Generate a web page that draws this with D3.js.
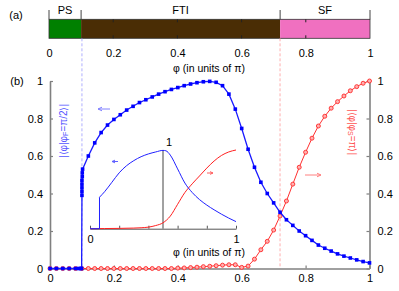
<!DOCTYPE html>
<html><head><meta charset="utf-8">
<script src="https://cdn.jsdelivr.net/npm/d3@7"></script>
<style>
body{margin:0;background:#fff;}
text{font-family:"Liberation Sans",Arial,sans-serif;}
</style></head>
<body><svg id="c" width="399" height="291"></svg>
<script>
// ---- data ----
const phaseNames = ["PS","FTI","SF"];
const phaseBounds = [0, 0.1, 0.72, 1];
const phaseColors = ["#008000","#4a2d05","#f070c0"];
const xTicks = [0,0.2,0.4,0.6,0.8,1];
const yTicks = [0,0.2,0.4,0.6,0.8,1];

const phiBlue = [0,0.02,0.04,0.06,0.08,0.09,0.096,0.099,
 0.1,0.1,0.1,0.1,0.1,0.101,0.101,0.102,
 0.12,0.14,0.16,0.18,0.20,0.22,0.24,0.26,0.28,0.30,0.32,0.34,0.36,0.38,0.40,0.42,0.44,0.46,0.48,0.50,
 0.52,0.54,0.56,0.58,0.60,0.62,0.64,0.66,0.68,0.70,0.72,0.74,0.76,0.78,0.80,0.82,0.84,0.86,0.88,0.90,0.92,0.94,0.96,0.98,1.0];
const valBlue = [0,0,0,0,0,0,0,0,
 0.39,0.41,0.43,0.45,0.47,0.49,0.51,0.53,
 0.60,0.67,0.725,0.765,0.795,0.82,0.845,0.865,0.885,0.90,0.915,0.93,0.943,0.955,0.965,0.975,0.984,0.991,0.996,0.998,
 0.993,0.975,0.93,0.85,0.747,0.636,0.54,0.46,0.40,0.35,0.30,0.26,0.23,0.20,0.175,0.15,0.125,0.108,0.093,0.078,0.066,0.056,0.046,0.037,0.03];

const phiRed = [0,0.02,0.04,0.06,0.08,0.10,0.12,0.14,0.16,0.18,0.20,0.22,0.24,0.26,0.28,0.30,0.32,0.34,0.36,0.38,
 0.40,0.42,0.44,0.46,0.48,0.50,0.52,0.54,0.56,0.58,0.60,0.62,0.64,0.66,0.68,0.70,0.72,0.74,0.76,0.78,0.80,
 0.82,0.84,0.86,0.88,0.90,0.92,0.94,0.96,0.98,1.0];
const valRed = [0,0,0,0,0,0,0,0,0,0,0,0,0,0,0,0,0,0,0,0,
 0.002,0.003,0.005,0.007,0.01,0.012,0.015,0.018,0.02,0.02,0.006,0.013,0.05,0.10,0.145,0.205,0.28,0.36,0.45,0.54,0.62,
 0.695,0.76,0.812,0.855,0.89,0.92,0.948,0.97,0.988,1.0];

// inset (continuous curves)
const insetJumpPhi = [0, 0.065, 0.065];
const insetJumpVal = [0, 0, 0.40];
const insetBluePhi = [0.065,0.1,0.15,0.2,0.25,0.3,0.35,0.4,0.45,0.5,0.52,0.55,0.6,0.65,0.7,0.75,0.8,0.85,0.9,0.95,1.0];
const insetBlueVal = [0.40,0.47,0.59,0.71,0.80,0.865,0.915,0.95,0.975,0.995,0.99,0.935,0.76,0.58,0.46,0.37,0.30,0.24,0.185,0.135,0.09];
const insetRedPhi = [0,0.1,0.2,0.3,0.35,0.4,0.45,0.5,0.55,0.6,0.65,0.7,0.75,0.8,0.85,0.9,0.95,1.0];
const insetRedVal = [0,0.002,0.004,0.008,0.012,0.02,0.04,0.075,0.16,0.31,0.46,0.57,0.67,0.77,0.86,0.93,0.975,1.0];
const insetTicks = [0,0.2,0.4,0.6,0.8,1];
const insetMarker = 0.5;

// ---- drawing ----
const svg = d3.select("#c");
svg.append("rect").attr("width",399).attr("height",291).attr("fill","#fff");
const gray = "#808080";

// (a) phase bar
const xa = d3.scaleLinear([0,1],[49,370]);
const barTop = 19.3, barBot = 38.3;
svg.append("text").attr("x",16).attr("y",15).attr("text-anchor","middle").attr("dominant-baseline","central")
  .attr("font-size",11).text("(a)");
phaseNames.forEach((n,i)=>{
  svg.append("rect").attr("x",xa(phaseBounds[i])).attr("y",barTop)
    .attr("width",xa(phaseBounds[i+1])-xa(phaseBounds[i])).attr("height",barBot-barTop)
    .attr("fill",phaseColors[i]);
  svg.append("text").attr("x",(xa(phaseBounds[i])+xa(phaseBounds[i+1]))/2).attr("y",10)
    .attr("text-anchor","middle").attr("dominant-baseline","central").attr("font-size",11).text(n);
});
phaseBounds.forEach(b=>{
  svg.append("line").attr("x1",xa(b)).attr("x2",xa(b)).attr("y1",10).attr("y2",barTop)
    .attr("stroke","#444").attr("stroke-width",1);
});
svg.append("rect").attr("x",xa(0)).attr("y",barTop).attr("width",xa(1)-xa(0)).attr("height",barBot-barTop)
  .attr("fill","none").attr("stroke","#333").attr("stroke-width",0.8);
const axA = d3.axisBottom(xa).tickValues(xTicks).tickSizeInner(0).tickSizeOuter(0).tickPadding(11)
  .tickFormat(d=>d===0||d===1?String(d):d3.format(".1f")(d));
const gA = svg.append("g").attr("transform",`translate(0,${barBot})`).call(axA);
gA.select(".domain").remove();
gA.selectAll("text").attr("font-size",11).attr("fill","#000").attr("font-family","Liberation Sans, Arial, sans-serif");
xTicks.slice(1,-1).forEach(t=>{
  svg.append("line").attr("x1",xa(t)).attr("x2",xa(t)).attr("y1",barTop).attr("y2",barTop+3).attr("stroke","#222").attr("stroke-width",1);
  svg.append("line").attr("x1",xa(t)).attr("x2",xa(t)).attr("y1",barBot-3).attr("y2",barBot).attr("stroke","#222").attr("stroke-width",1);
});
svg.append("text").attr("x",209).attr("y",68).attr("text-anchor","middle").attr("dominant-baseline","central")
  .attr("font-size",10.5).text("φ (in units of π)");

// (b) main
const xb = d3.scaleLinear([0,1],[50,369.5]);
const yb = d3.scaleLinear([0,1],[268.5,81]);
svg.append("text").attr("x",17).attr("y",81).attr("text-anchor","middle").attr("dominant-baseline","central")
  .attr("font-size",11).text("(b)");

// dashed phase boundaries
svg.append("line").attr("x1",xb(0.1)).attr("x2",xb(0.1)).attr("y1",barBot).attr("y2",yb(0))
  .attr("stroke","#9a9aff").attr("stroke-dasharray","3,2").attr("stroke-width",0.8);
svg.append("line").attr("x1",xb(0.72)).attr("x2",xb(0.72)).attr("y1",barBot).attr("y2",yb(0))
  .attr("stroke","#ff9a9a").attr("stroke-dasharray","3,2").attr("stroke-width",0.8);

function styleAxis(g){
  g.select(".domain").attr("stroke",gray).attr("stroke-width",1.6);
  g.selectAll(".tick line").attr("stroke",gray).attr("stroke-width",1.2);
  g.selectAll("text").attr("font-size",11).attr("fill","#000").attr("font-family","Liberation Sans, Arial, sans-serif");
}
const fmt = d=>d===0||d===1?String(d):d3.format(".1f")(d);
styleAxis(svg.append("g").attr("transform",`translate(${xb(0)},0)`)
  .call(d3.axisLeft(yb).tickValues(yTicks).tickSizeInner(-3).tickSizeOuter(0).tickPadding(7).tickFormat(fmt)));
styleAxis(svg.append("g").attr("transform",`translate(${xb(1)},0)`)
  .call(d3.axisRight(yb).tickValues(yTicks).tickSizeInner(-3).tickSizeOuter(0).tickPadding(8).tickFormat(fmt)));
styleAxis(svg.append("g").attr("transform",`translate(0,${yb(0)})`)
  .call(d3.axisBottom(xb).tickValues(xTicks).tickSizeInner(-3).tickSizeOuter(0).tickPadding(6).tickFormat(fmt)));

// inset
const xi = d3.scaleLinear([0,1],[90,236]);
const yi = d3.scaleLinear([0,1],[228.7,150]);
svg.append("line").attr("x1",xi(insetMarker)).attr("x2",xi(insetMarker)).attr("y1",yi(1)).attr("y2",yi(0))
  .attr("stroke","#444").attr("stroke-width",1);
svg.append("text").attr("x",xi(insetMarker)+6).attr("y",142).attr("text-anchor","middle").attr("dominant-baseline","central")
  .attr("font-size",11).text("1");
const gi = svg.append("g").attr("transform",`translate(0,${yi(0)})`)
  .call(d3.axisBottom(xi).tickValues(insetTicks).tickSizeInner(-3).tickSizeOuter(0).tickPadding(7)
  .tickFormat(d=>d===0||d===1?String(d):""));
gi.select(".domain").attr("stroke","#555").attr("stroke-width",1);
gi.selectAll(".tick line").attr("stroke","#555");
gi.selectAll("text").attr("font-size",11).attr("fill","#000").attr("font-family","Liberation Sans, Arial, sans-serif");
svg.append("text").attr("x",209).attr("y",252).attr("text-anchor","middle").attr("dominant-baseline","central")
  .attr("font-size",10.5).text("φ (in units of π)");

const lineI = d3.line().x(d=>xi(d[0])).y(d=>yi(d[1]));
svg.append("path").datum(insetRedPhi.map((p,i)=>[p,insetRedVal[i]]))
  .attr("d",lineI.curve(d3.curveMonotoneX)).attr("fill","none").attr("stroke","#ff2020").attr("stroke-width",1);
svg.append("path").datum(insetJumpPhi.map((p,i)=>[p,insetJumpVal[i]]))
  .attr("d",d3.line().x(d=>xi(d[0])).y(d=>yi(d[1]))).attr("fill","none").attr("stroke","#2020ff").attr("stroke-width",1);
svg.append("path").datum(insetBluePhi.map((p,i)=>[p,insetBlueVal[i]]))
  .attr("d",d3.line().x(d=>xi(d[0])).y(d=>yi(d[1])).curve(d3.curveMonotoneX)).attr("fill","none").attr("stroke","#2020ff").attr("stroke-width",1);

// arrows
function arrow(x1,x2,y,col,h){
  const dir = Math.sign(x2-x1);
  svg.append("path").attr("d",`M${x1},${y}L${x2},${y}M${x2-dir*h},${y-h*0.45}L${x2},${y}L${x2-dir*h},${y+h*0.45}`)
    .attr("fill","none").attr("stroke",col).attr("stroke-width",1);
}
arrow(110,98,109,"#8080ff",4);
arrow(305,321,175,"#ff8080",4);
arrow(118,112,161.5,"#6060ff",3);
arrow(207,213,173,"#ff6060",3);

// main series
const lineB = d3.line().x(d=>xb(d[0])).y(d=>yb(d[1]));
const red = phiRed.map((p,i)=>[p,valRed[i]]);
const blue = phiBlue.map((p,i)=>[p,valBlue[i]]);
svg.append("path").datum(red).attr("d",lineB).attr("fill","none").attr("stroke","#ff3030").attr("stroke-width",1);
svg.append("g").selectAll("circle").data(red).join("circle")
  .attr("cx",d=>xb(d[0])).attr("cy",d=>yb(d[1])).attr("r",2)
  .attr("fill","#ffb0b0").attr("stroke","#ff2a2a").attr("stroke-width",0.9);
svg.append("path").datum(blue).attr("d",lineB).attr("fill","none").attr("stroke","#1a1aff").attr("stroke-width",1.3);
svg.append("g").selectAll("rect").data(blue).join("rect")
  .attr("x",d=>xb(d[0])-1.8).attr("y",d=>yb(d[1])-1.8).attr("width",3.6).attr("height",3.6)
  .attr("fill","#0000ff");

// y labels
const lt = svg.append("text").attr("transform","translate(63,131) rotate(-90)").attr("text-anchor","middle")
  .attr("dominant-baseline","central").attr("font-size",10).attr("fill","#5555ff");
lt.append("tspan").text("|⟨φ|φ");
lt.append("tspan").attr("font-size",7).attr("dy",2).text("F");
lt.append("tspan").attr("dy",-2).text("=π/2⟩|");
const rt = svg.append("text").attr("transform","translate(353,132) rotate(90)").attr("text-anchor","middle")
  .attr("dominant-baseline","central").attr("font-size",10).attr("fill","#ff5555");
rt.append("tspan").text("|⟨φ|φ");
rt.append("tspan").attr("font-size",7).attr("dy",2).text("S");
rt.append("tspan").attr("dy",-2).text("=π⟩|");
</script></body></html>
